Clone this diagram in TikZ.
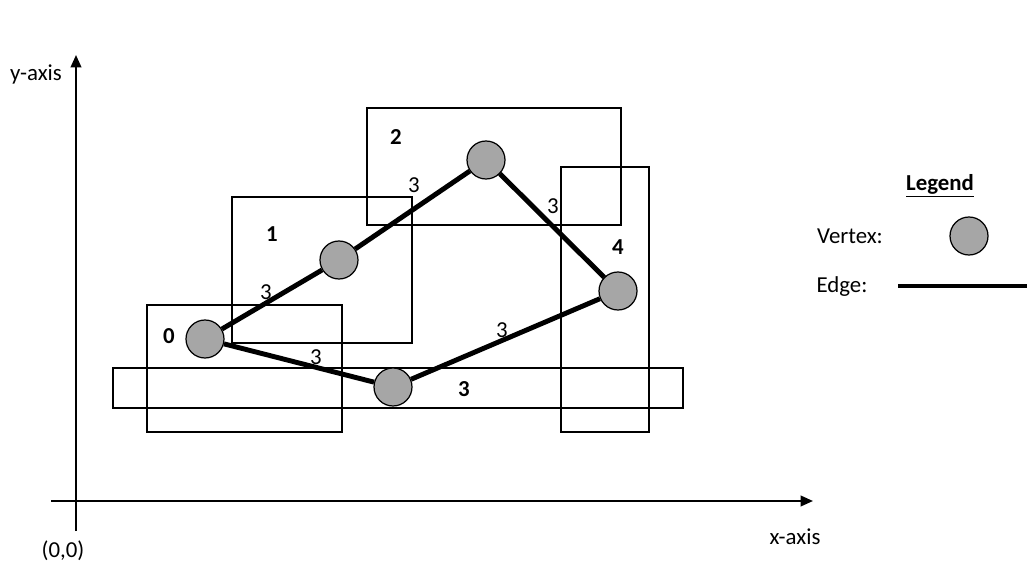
\documentclass[tikz,border=0pt]{standalone}
\usepackage{fontspec}
\setmainfont{Carlito}
\usetikzlibrary{arrows.meta, positioning}
\definecolor{vertexgray}{HTML}{A6A6A6}

\begin{document}
\begin{tikzpicture}[
  x=0.02cm, y=-0.02cm,
  vertex/.style={circle, draw, line width=0.7pt, fill=vertexgray, minimum size=38*0.02cm, inner sep=0pt},
  edge/.style={line width=2.8pt},
  region/.style={draw, line width=0.8pt},
  axis/.style={line width=1.1pt, -{Triangle[length=7pt, width=6pt]}},
  lbl/.style={font=\fontsize{13}{15}\selectfont, inner sep=1pt},
  vlbl/.style={font=\fontsize{13}{15}\selectfont\bfseries, inner sep=1pt}
]
\useasboundingbox (0,0) rectangle (1027,563);

% Axes
\coordinate (origin) at (76,531);
\coordinate (ytip) at (76,55);
\coordinate (xstart) at (51,501);
\coordinate (xtip) at (813,501);
\draw[axis] (origin) -- (ytip);
\draw[axis] (xstart) -- (xtip);
\node[lbl] (ylabel) at (36,74) {y-axis};
\node[lbl] (xlabel) at (795,537) {x-axis};
\node[lbl] (olabel) at (63,551) {(0,0)};

% Bounding regions
\draw[region] (147,305) rectangle (342,432);
\draw[region] (113,368) rectangle (683,408);
\draw[region] (232,197) rectangle (412,343);
\draw[region] (367,108) rectangle (621,225);
\draw[region] (561,167) rectangle (649,432);

% Vertices
\node[vertex] (v0) at (205,339) {};
\node[vertex] (v1) at (339,260) {};
\node[vertex] (v2) at (486,160) {};
\node[vertex] (v3) at (393,387) {};
\node[vertex] (v4) at (618,291) {};

% Edges
\draw[edge] (v0) -- (v1);
\draw[edge] (v1) -- (v2);
\draw[edge] (v2) -- (v4);
\draw[edge] (v0) -- (v3);
\draw[edge] (v3) -- (v4);

% Region labels
\node[vlbl] (n0) at (169,336) {0};
\node[vlbl] (n1) at (272,234) {1};
\node[vlbl] (n2) at (396,137) {2};
\node[vlbl] (n3) at (464,389) {3};
\node[vlbl] (n4) at (618,247) {4};

% Edge weights
\node[lbl] (w01) at (266,292) {3};
\node[lbl] (w03) at (316,357) {3};
\node[lbl] (w12) at (414,185) {3};
\node[lbl] (w24) at (553,206) {3};
\node[lbl] (w34) at (502,330) {3};

% Legend
\node[vlbl] (legend) at (940,186) {\underline{Legend}};
\node[lbl] (vtext) at (850,236) {Vertex:};
\node[vertex] (lvertex) at (969,236) {};
\node[lbl] (etext) at (842,287) {Edge:};
\coordinate (estart) at (898,286);
\coordinate (eend) at (1027,286);
\draw[edge, line width=2.4pt] (estart) -- (eend);

\end{tikzpicture}
\end{document}
